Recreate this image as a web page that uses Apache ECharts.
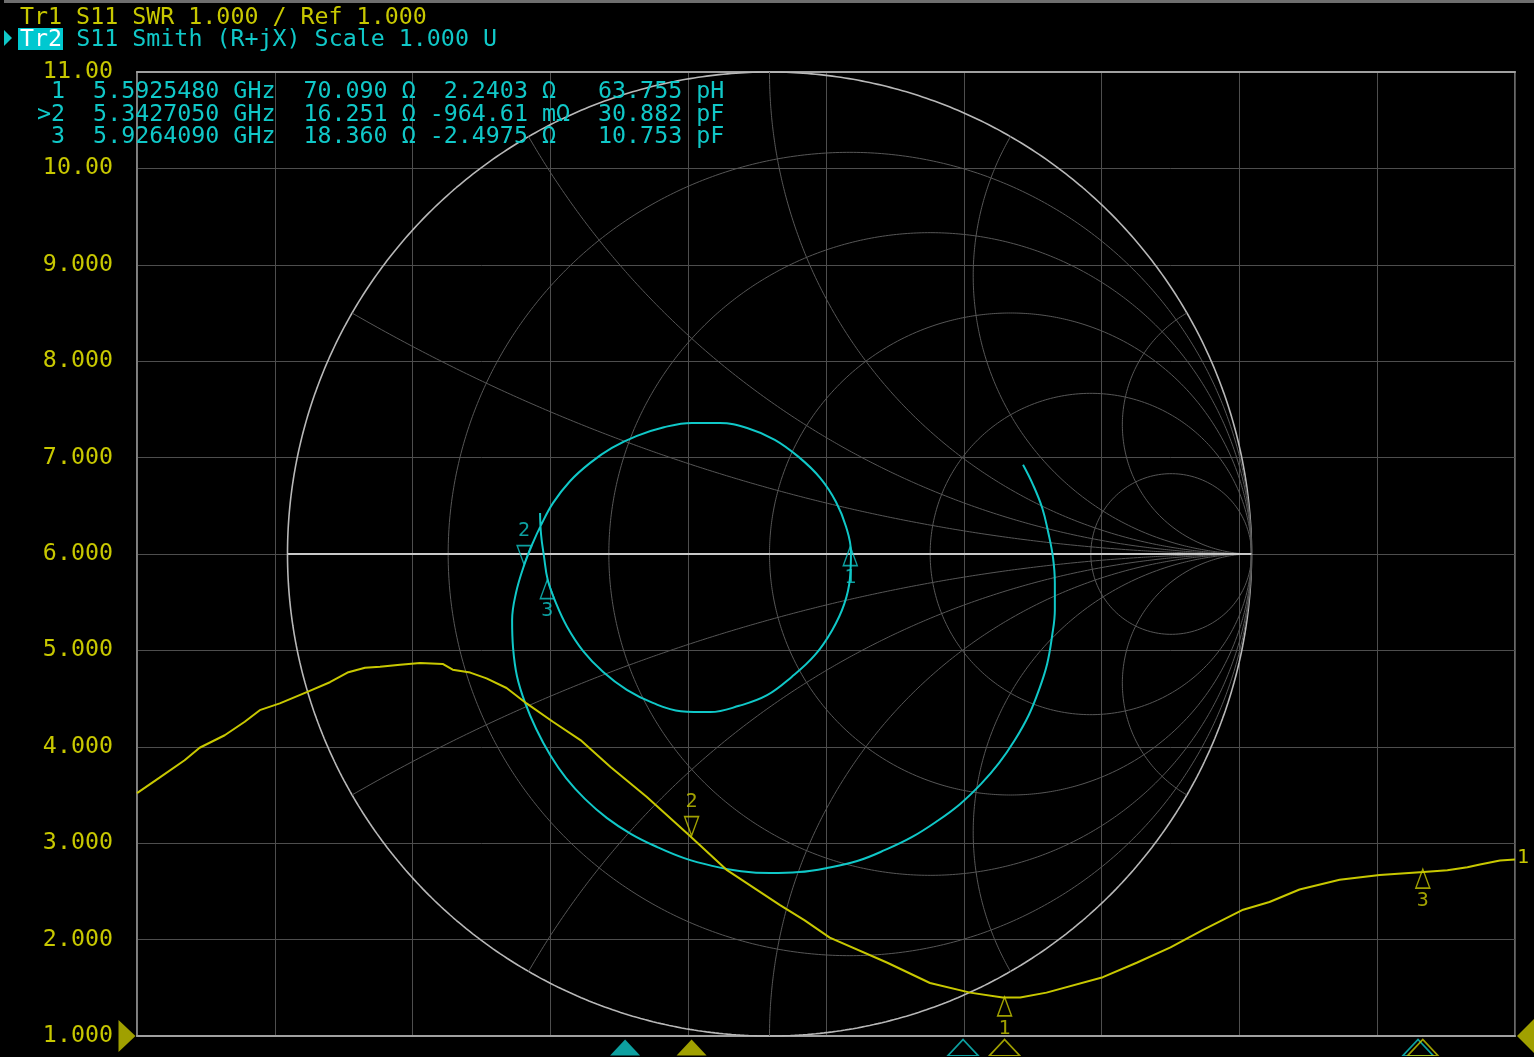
<!DOCTYPE html>
<html><head><meta charset="utf-8">
<script src="https://cdn.jsdelivr.net/npm/echarts@6/dist/echarts.min.js"></script>
<style>html,body{margin:0;padding:0;background:#000;overflow:hidden}#c{width:1534px;height:1057px}</style>
</head><body><div id="c"></div>
<script>
// ---------------- data ----------------
const yTickValues = [1,2,3,4,5,6,7,8,9,10,11];
const refLevel = 1.0;
const startGHz = 4.9, stopGHz = 6.0;
// Tr1: S11 SWR vs frequency
const swrFreqGHz = [4.900,4.918,4.938,4.950,4.970,4.986,4.998,5.014,5.036,5.054,5.068,5.082,5.094,5.110,5.126,5.144,5.152,5.166,5.179,5.195,5.211,5.232,5.254,5.278,5.307,5.341,5.371,5.413,5.433,5.453,5.499,5.533,5.565,5.591,5.605,5.626,5.671,5.698,5.725,5.751,5.783,5.804,5.828,5.860,5.892,5.927,5.946,5.962,5.972,5.988,6.000];
const swrValues = [3.52,3.68,3.86,3.99,4.12,4.26,4.38,4.45,4.57,4.67,4.77,4.82,4.83,4.85,4.87,4.86,4.80,4.77,4.71,4.61,4.45,4.26,4.07,3.79,3.48,3.08,2.72,2.36,2.20,2.02,1.76,1.55,1.45,1.40,1.40,1.45,1.61,1.76,1.92,2.10,2.31,2.39,2.52,2.62,2.67,2.70,2.72,2.75,2.78,2.82,2.83];
// Tr2: S11 reflection coefficient (Smith), real / imaginary
const smithRe = [0.526,0.547,0.566,0.578,0.588,0.592,0.592,0.586,0.576,0.559,0.538,0.509,0.476,0.439,0.395,0.348,0.296,0.240,0.182,0.121,0.061,0.001,-0.059,-0.119,-0.177,-0.233,-0.287,-0.337,-0.383,-0.422,-0.455,-0.484,-0.507,-0.524,-0.532,-0.534,-0.526,-0.509,-0.491,-0.474,-0.449,-0.414,-0.372,-0.327,-0.275,-0.219,-0.161,-0.103,-0.045,0.011,0.061,0.105,0.138,0.159,0.169,0.167,0.155,0.130,0.094,0.046,-0.005,-0.063,-0.123,-0.184,-0.242,-0.296,-0.345,-0.387,-0.420,-0.443,-0.460,-0.468,-0.474,-0.476];
const smithIm = [0.185,0.143,0.095,0.046,-0.006,-0.060,-0.116,-0.172,-0.228,-0.282,-0.334,-0.386,-0.434,-0.477,-0.519,-0.554,-0.587,-0.614,-0.637,-0.651,-0.660,-0.662,-0.658,-0.647,-0.631,-0.608,-0.581,-0.548,-0.508,-0.465,-0.417,-0.363,-0.309,-0.253,-0.195,-0.137,-0.081,-0.023,0.023,0.060,0.106,0.151,0.189,0.220,0.245,0.263,0.272,0.272,0.261,0.237,0.201,0.158,0.108,0.056,0.004,-0.050,-0.104,-0.158,-0.210,-0.255,-0.293,-0.315,-0.328,-0.326,-0.309,-0.282,-0.245,-0.201,-0.151,-0.102,-0.054,-0.004,0.041,0.085];
// markers
const markerIds = ['1','2','3'];
const activeMarker = '2';
const markerFreqGHz = [5.5925480, 5.3427050, 5.9264090];
const markerR = [70.090, 16.251, 18.360];
const markerX = [2.2403, -0.96461, -2.4975];
const markerEqValue = [63.755, 30.882, 10.753];
const markerEqUnit = ['pH','pF','pF'];
const tr2IndicatorFreqGHz = [5.5594, 5.2896, 5.9226];
const z0 = 50;
// Smith grid
const smithResistances = [0, 0.2, 0.5, 1, 2, 5];
const smithReactances = [0.2679, 0.5774, 1, 1.732, 3.732];
// texts
const headerTr1 = 'Tr1 S11 SWR 1.000 / Ref 1.000';
const headerTr2Tag = 'Tr2';
const headerTr2 = ' S11 Smith (R+jX) Scale 1.000 U';

// ---------------- helpers ----------------
const YEL = '#c8c800', CYN = '#10c8c8', GRID = '#4e4e4e';
const FONT = '"DejaVu Sans Mono", monospace';
const FS = 23.3;
function gammaOf(R, X) { // Z in ohms
  const ar = R - z0, br = R + z0;
  const d = br*br + X*X;
  return [(ar*br + X*X)/d, (X*br - ar*X)/d];
}
function swrOf(g) { const m = Math.hypot(g[0], g[1]); return (1+m)/(1-m); }
function rCircle(r) {
  const c = r/(1+r), R = 1/(1+r), pts = [];
  for (let i = 0; i <= 720; i++) { const t = i*Math.PI/360; pts.push([c + R*Math.cos(t), R*Math.sin(t)]); }
  return pts;
}
function xArc(x) {
  const pts = [];
  for (let i = 0; i <= 600; i++) {
    const u = i/600*Math.PI/2;
    const r = i === 600 ? 1e9 : Math.tan(u);
    const d = (r+1)*(r+1) + x*x;
    pts.push([(r*r - 1 + x*x)/d, 2*x/d]);
  }
  return pts;
}

const series = [];
// Smith grid lines
smithResistances.forEach(r => series.push({
  type:'line', xAxisIndex:2, yAxisIndex:1, data:rCircle(r), showSymbol:false, silent:true,
  lineStyle:{color: r === 0 ? '#b8b8b8' : '#575757', width: r === 0 ? 1.6 : 1}, z:2
}));
smithReactances.forEach(x => [x, -x].forEach(v => series.push({
  type:'line', xAxisIndex:2, yAxisIndex:1, data:xArc(v), showSymbol:false, silent:true,
  lineStyle:{color:'#575757', width:1}, z:2
})));
series.push({ type:'line', xAxisIndex:2, yAxisIndex:1, data:[[-1,0],[1,0]], showSymbol:false, silent:true,
  lineStyle:{color:'#c8c8c8', width:2}, z:3 });

// Tr2 Smith trace
series.push({ type:'line', xAxisIndex:2, yAxisIndex:1, data: smithRe.map((v,i)=>[v, smithIm[i]]),
  showSymbol:false, smooth:0.4, lineStyle:{color:CYN, width:2}, z:5 });

// Tr1 SWR trace
series.push({ type:'line', xAxisIndex:1, yAxisIndex:0, data: swrFreqGHz.map((f,i)=>[f, swrValues[i]]),
  showSymbol:false, lineStyle:{color:YEL, width:2}, z:6,
  endLabel:{show:true, formatter:'1', color:YEL, fontFamily:FONT, fontSize:20, distance:2, offset:[0,-2]} });

const UP = 'path://M0,0L7,20L-7,20Z', DOWN = 'path://M-7,0L7,0L0,20Z';
function markerItem(pt, id) {
  const up = id !== activeMarker;
  return {
    value: pt, symbol: up ? UP : DOWN, symbolSize:[14,19], symbolOffset: up ? [0,9.5] : [0,-9.5],
    label: { show:true, formatter:id, position:'inside', offset: up ? [0,22] : [0,-24] }
  };
}
const gammas = markerR.map((R,i)=>gammaOf(R, markerX[i]));
series.push({ type:'scatter', xAxisIndex:2, yAxisIndex:1, clip:false, z:8,
  itemStyle:{color:'rgba(0,0,0,0)', borderColor:CYN, borderWidth:1.5},
  label:{color:CYN, fontFamily:FONT, fontSize:20},
  data: gammas.map((g,i)=>markerItem(g, markerIds[i])) });
series.push({ type:'scatter', xAxisIndex:1, yAxisIndex:0, clip:false, z:8,
  itemStyle:{color:'rgba(0,0,0,0)', borderColor:YEL, borderWidth:1.5},
  label:{color:YEL, fontFamily:FONT, fontSize:20},
  data: gammas.map((g,i)=>markerItem([markerFreqGHz[i], swrOf(g)], markerIds[i])) });

// marker position indicators under the plot
function indicators(freqs, color) {
  return { type:'scatter', xAxisIndex:3, yAxisIndex:2, clip:false, z:8, symbol:'triangle', symbolSize:[30,16],
    data: freqs.map((f,i)=>({ value:[f,0.5], itemStyle: markerIds[i] === activeMarker ?
      {color:color} : {color:'rgba(0,0,0,0)', borderColor:color, borderWidth:1.5} })) };
}
series.push(indicators(tr2IndicatorFreqGHz, CYN));
series.push(indicators(markerFreqGHz, YEL));

// reference level markers
series.push({ type:'scatter', xAxisIndex:1, yAxisIndex:0, clip:false, z:9, silent:true,
  data:[
    {value:[startGHz, refLevel], symbol:'path://M0,0L10,10L0,20Z', symbolSize:[17,32], symbolOffset:[-10,0], itemStyle:{color:YEL}},
    {value:[stopGHz, refLevel], symbol:'diamond', symbolSize:[34,34], symbolOffset:[19,0], itemStyle:{color:YEL}}
  ]});

// marker table text
function fmtX(x) { return Math.abs(x) < 1 ? [(x*1000).toFixed(2), 'mΩ'] : [x.toFixed(4), 'Ω']; }
const tableRows = markerIds.map((id,i)=>{
  const xs = fmtX(markerX[i]);
  return (id === activeMarker ? '>' : ' ') + id + '  ' + markerFreqGHz[i].toFixed(7) + ' GHz  ' +
    markerR[i].toFixed(3) + ' Ω ' + xs[0].padStart(7) + ' ' + xs[1].padEnd(2) + '  ' +
    markerEqValue[i].toFixed(3) + ' ' + markerEqUnit[i];
});

function txt(text, x, y, color, extra) {
  return Object.assign({ type:'text', x:x, y:y, z:20,
    style:{ text:text, fill:color, font: FS+'px '+FONT, textVerticalAlign:'middle', verticalAlign:'middle' } }, extra||{});
}
const graphics = [
  { type:'rect', shape:{x:4, y:0, width:1530, height:3}, style:{fill:'#6e6e6e'}, z:20 },
  txt(headerTr1, 20, 17.5, YEL),
  { type:'polygon', shape:{points:[[4,30],[12,38],[4,46]]}, style:{fill:CYN}, z:20 },
  { type:'rect', shape:{x:18, y:28, width:45, height:22}, style:{fill:'#00c8d0'}, z:19 },
  txt(headerTr2Tag, 20, 39.5, '#ffffff'),
  txt(headerTr2, 20 + 3*14.05, 39.5, CYN)
].concat(tableRows.map((row,i)=>txt(row, 37, 92 + i*22.5, CYN)));

const chart = echarts.init(document.getElementById('c'), null, {renderer:'canvas'});
chart.setOption({
  backgroundColor:'#000000',
  animation:false,
  grid:[
    {left:137, top:72, width:1378, height:964, show:true, borderColor:'#8a8a8a', borderWidth:1.5, backgroundColor:'#000'},
    {left:287.5, top:72, width:964, height:964},
    {left:137, top:1038, width:1378, height:19}
  ],
  xAxis:[
    {gridIndex:0, type:'value', min:0, max:10, interval:1, position:'bottom',
      axisLine:{show:true, lineStyle:{color:'#a0a0a0', width:2}}, axisTick:{show:false}, axisLabel:{show:false},
      splitLine:{show:true, lineStyle:{color:GRID, width:1}}},
    {gridIndex:0, type:'value', min:startGHz, max:stopGHz, position:'top',
      axisLine:{show:true, lineStyle:{color:'#a0a0a0', width:2}}, axisTick:{show:false}, axisLabel:{show:false}, splitLine:{show:false}},
    {gridIndex:1, type:'value', min:-1, max:1, show:false},
    {gridIndex:2, type:'value', min:startGHz, max:stopGHz, show:false}
  ],
  yAxis:[
    {gridIndex:0, type:'value', min:yTickValues[0], max:yTickValues[yTickValues.length-1], interval:1,
      axisLine:{show:true, lineStyle:{color:'#8a8a8a', width:1.5}}, axisTick:{show:false},
      axisLabel:{show:true, margin:24, color:YEL, fontFamily:FONT, fontSize:FS, padding:[3,0,0,0],
        formatter: v => v >= 10 ? v.toFixed(2) : v.toFixed(3)},
      splitLine:{show:true, lineStyle:{color:GRID, width:1}}},
    {gridIndex:1, type:'value', min:-1, max:1, show:false},
    {gridIndex:2, type:'value', min:0, max:1, show:false}
  ],
  graphic: graphics,
  series: series
});
</script></body></html>
